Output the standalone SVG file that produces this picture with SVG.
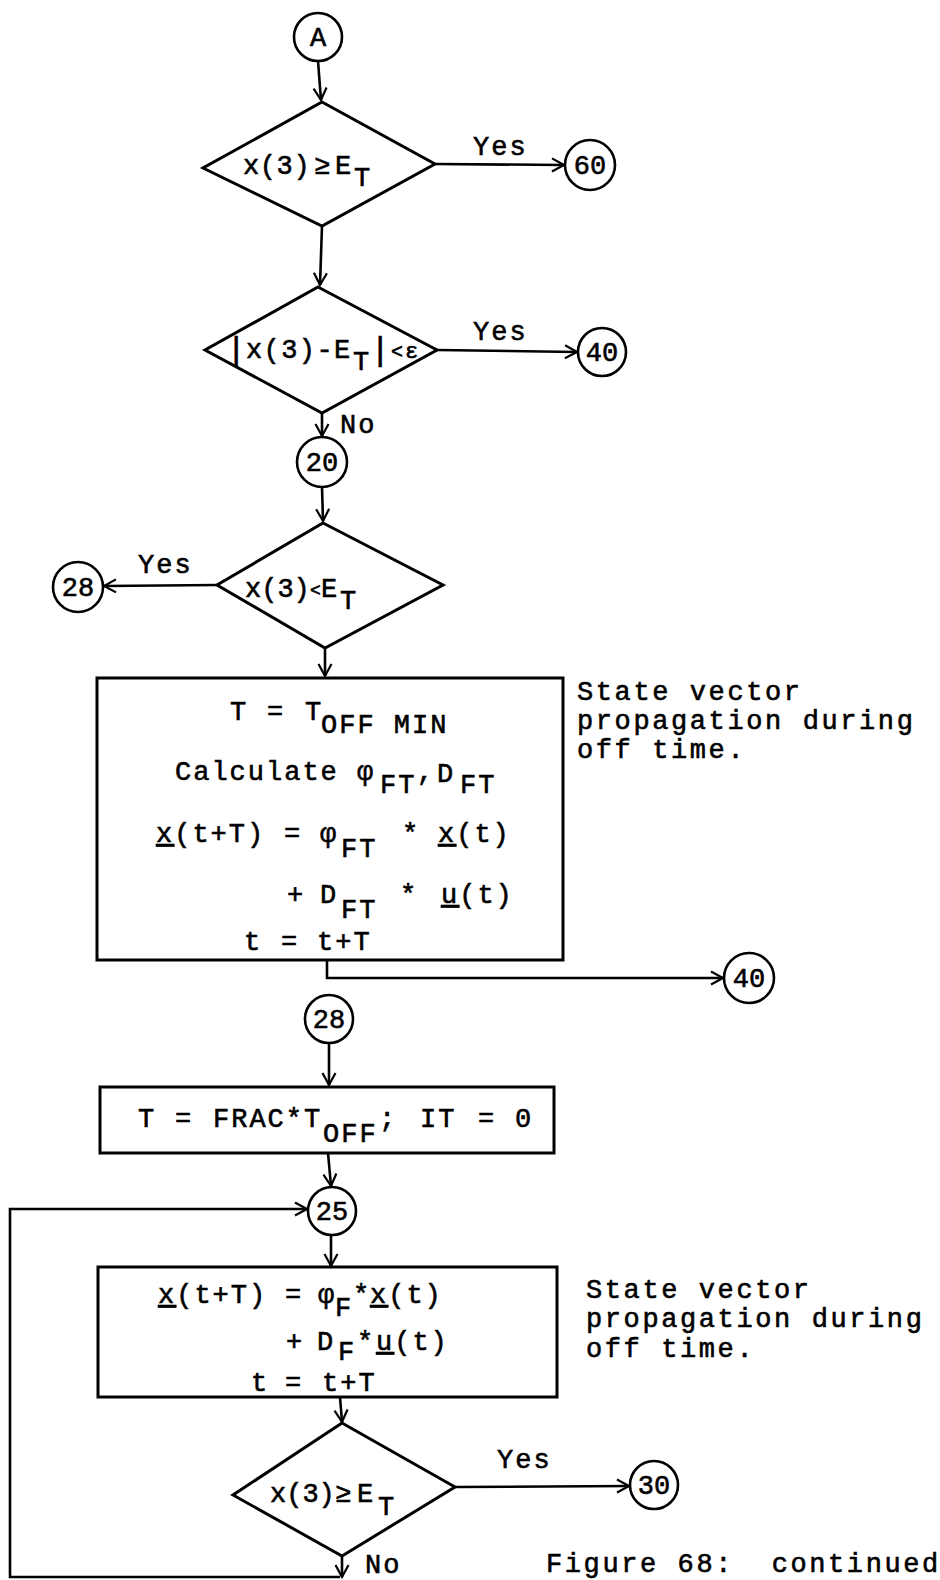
<svg xmlns="http://www.w3.org/2000/svg" width="940" height="1580" viewBox="0 0 940 1580">
<style>
.bg{fill:#fff}
.sh{stroke:#000;stroke-width:3;fill:none;stroke-linejoin:miter}
.ci{stroke:#000;stroke-width:2.6;fill:#fff}
.ln{stroke:#000;stroke-width:2.6;fill:none}
.t{font-family:"Liberation Mono","DejaVu Sans Mono",monospace;font-size:27px;letter-spacing:2px;fill:#000;stroke:#000;stroke-width:0.6px}
.n{letter-spacing:0}
.c{font-family:"Liberation Mono","DejaVu Sans Mono",monospace;font-size:27px;fill:#000;stroke:#000;stroke-width:0.6px;text-anchor:middle}
.side{font-family:"Liberation Mono","DejaVu Sans Mono",monospace;font-size:27px;letter-spacing:2.6px;fill:#000;stroke:#000;stroke-width:0.6px;white-space:pre}
.u{text-decoration:underline}
</style>
<defs>
<marker id="arr" markerUnits="userSpaceOnUse" markerWidth="16" markerHeight="16" refX="13" refY="8" orient="auto">
<path d="M1,1.5 L13,8 L1,14.5" stroke="#000" stroke-width="2.2" fill="none"/>
</marker>
</defs>
<rect class="bg" x="0" y="0" width="940" height="1580"/>

<g id="connectors">
<line class="ln" x1="318" y1="61" x2="321" y2="100" marker-end="url(#arr)"/>
<line class="ln" x1="435" y1="164" x2="564" y2="165" marker-end="url(#arr)"/>
<line class="ln" x1="322" y1="226" x2="320" y2="285" marker-end="url(#arr)"/>
<line class="ln" x1="437" y1="350" x2="577" y2="352" marker-end="url(#arr)"/>
<line class="ln" x1="322" y1="413" x2="322" y2="436" marker-end="url(#arr)"/>
<line class="ln" x1="322" y1="487" x2="323" y2="521" marker-end="url(#arr)"/>
<line class="ln" x1="217" y1="585" x2="104" y2="586" marker-end="url(#arr)"/>
<line class="ln" x1="325" y1="648" x2="325" y2="676" marker-end="url(#arr)"/>
<polyline class="ln" points="327,960 327,978 723,978" marker-end="url(#arr)"/>
<line class="ln" x1="329" y1="1043" x2="329" y2="1085" marker-end="url(#arr)"/>
<line class="ln" x1="328" y1="1153" x2="331" y2="1186" marker-end="url(#arr)"/>
<line class="ln" x1="331" y1="1235" x2="331" y2="1266" marker-end="url(#arr)"/>
<line class="ln" x1="340" y1="1397" x2="342" y2="1422" marker-end="url(#arr)"/>
<line class="ln" x1="455" y1="1487" x2="629" y2="1486" marker-end="url(#arr)"/>
<line class="ln" x1="342" y1="1556" x2="342" y2="1577" marker-end="url(#arr)"/>
<polyline class="ln" points="340,1577 10,1577 10,1209 307,1209" marker-end="url(#arr)"/>
<text class="t" x="473" y="155">Yes</text>
<text class="t" x="473" y="340">Yes</text>
<text class="t" x="340" y="433">No</text>
<text class="t" x="138" y="573">Yes</text>
<text class="t" x="497" y="1468">Yes</text>
<text class="t" x="365" y="1573">No</text>
</g>

<g id="nodeA"><circle class="ci" cx="318" cy="37" r="24"/><text class="c" x="318" y="46">A</text></g>

<g id="dec1">
<polygon class="sh" points="322,102 435,164 322,226 203,168"/>
<text class="t" x="243" y="174" style="letter-spacing:0.6px">x(3)</text>
<text class="t n" x="314" y="174">≥</text>
<text class="t n" x="335" y="174">E</text>
<text class="t n" x="354" y="186">T</text>
</g>
<g id="n60"><circle class="ci" cx="590" cy="165" r="25"/><text class="c" x="590" y="174">60</text></g>

<g id="dec2">
<polygon class="sh" points="318,287 437,350 322,413 205,350"/>
<text class="t n" x="226" y="360" style="font-size:34px">|</text>
<text class="t" x="246" y="358" style="letter-spacing:1.4px">x(3)-E</text>
<text class="t n" x="353" y="370">T</text>
<text class="t n" x="370" y="360" style="font-size:34px">|</text>
<text class="t n" x="391" y="358" style="font-size:20px">&lt;</text>
<text class="t n" x="405" y="358" style="font-size:22px">ε</text>
</g>
<g id="n40a"><circle class="ci" cx="602" cy="352" r="24"/><text class="c" x="602" y="361">40</text></g>

<g id="n20"><circle class="ci" cx="322" cy="462" r="25"/><text class="c" x="322" y="471">20</text></g>

<g id="dec3">
<polygon class="sh" points="323,523 443,585 325,648 217,585"/>
<text class="t n" x="245" y="597">x(3)</text>
<text class="t n" x="310" y="596" style="font-size:18px">&lt;</text>
<text class="t n" x="321" y="597">E</text>
<text class="t n" x="340" y="609">T</text>
</g>
<g id="n28a"><circle class="ci" cx="78" cy="587" r="25"/><text class="c" x="78" y="596">28</text></g>

<g id="box1">
<rect class="sh" x="97" y="678" width="466" height="282"/>
<text class="t n" x="230" y="720">T</text>
<text class="t n" x="267" y="720">=</text>
<text class="t n" x="305" y="720">T</text>
<text class="t" x="321" y="733">OFF MIN</text>
<text class="t" x="175" y="780">Calculate</text>
<text class="t n" x="357" y="780">φ</text>
<text class="t" x="380" y="793">FT</text>
<text class="t n" x="417" y="780">,</text>
<text class="t n" x="437" y="782">D</text>
<text class="t" x="460" y="793">FT</text>
<text class="t" x="156" y="842"><tspan class="u">x</tspan>(t+T)</text>
<text class="t n" x="284" y="842">=</text>
<text class="t n" x="320" y="842">φ</text>
<text class="t" x="341" y="857">FT</text>
<text class="t n" x="402" y="842">*</text>
<text class="t" x="438" y="842"><tspan class="u">x</tspan>(t)</text>
<text class="t n" x="287" y="903">+</text>
<text class="t n" x="320" y="903">D</text>
<text class="t" x="341" y="918">FT</text>
<text class="t n" x="400" y="903">*</text>
<text class="t" x="441" y="903"><tspan class="u">u</tspan>(t)</text>
<text class="t n" x="244" y="950">t</text>
<text class="t n" x="281" y="950">=</text>
<text class="t" x="317" y="950">t+T</text>
</g>
<g id="note1">
<text class="side" x="577" y="700">State vector</text>
<text class="side" x="577" y="729">propagation during</text>
<text class="side" x="577" y="758">off time.</text>
</g>
<g id="n40b"><circle class="ci" cx="749" cy="978" r="25"/><text class="c" x="749" y="987">40</text></g>

<g id="n28b"><circle class="ci" cx="329" cy="1019" r="24"/><text class="c" x="329" y="1028">28</text></g>

<g id="box2">
<rect class="sh" x="100" y="1087" width="454" height="66"/>
<text class="t n" x="138" y="1127">T</text>
<text class="t n" x="175" y="1127">=</text>
<text class="t" x="213" y="1127">FRAC*T</text>
<text class="t" x="323" y="1142">OFF</text>
<text class="t n" x="379" y="1127">;</text>
<text class="t" x="420" y="1127">IT</text>
<text class="t n" x="478" y="1127">=</text>
<text class="t n" x="515" y="1127">0</text>
</g>

<g id="n25"><circle class="ci" cx="332" cy="1211" r="24"/><text class="c" x="332" y="1220">25</text></g>

<g id="box3">
<rect class="sh" x="98" y="1267" width="459" height="130"/>
<text class="t" x="158" y="1303"><tspan class="u">x</tspan>(t+T)</text>
<text class="t n" x="285" y="1303">=</text>
<text class="t n" x="318" y="1303">φ</text>
<text class="t n" x="335" y="1316">F</text>
<text class="t n" x="353" y="1303">*</text>
<text class="t" x="370" y="1303"><tspan class="u">x</tspan>(t)</text>
<text class="t n" x="286" y="1350">+</text>
<text class="t n" x="317" y="1350">D</text>
<text class="t n" x="338" y="1360">F</text>
<text class="t n" x="357" y="1350">*</text>
<text class="t" x="376" y="1350"><tspan class="u">u</tspan>(t)</text>
<text class="t n" x="251" y="1391">t</text>
<text class="t n" x="285" y="1391">=</text>
<text class="t" x="322" y="1391">t+T</text>
</g>
<g id="note2">
<text class="side" x="586" y="1298">State vector</text>
<text class="side" x="586" y="1327">propagation during</text>
<text class="side" x="586" y="1357">off time.</text>
</g>

<g id="dec4">
<polygon class="sh" points="342,1423 455,1487 342,1556 233,1495"/>
<text class="t n" x="270" y="1502">x(3)</text>
<text class="t n" x="335" y="1502">≥</text>
<text class="t n" x="357" y="1502">E</text>
<text class="t n" x="378" y="1515">T</text>
</g>
<g id="n30"><circle class="ci" cx="654" cy="1485" r="24"/><text class="c" x="654" y="1494">30</text></g>

<text class="side" x="546" y="1572">Figure 68:  continued</text>
</svg>
